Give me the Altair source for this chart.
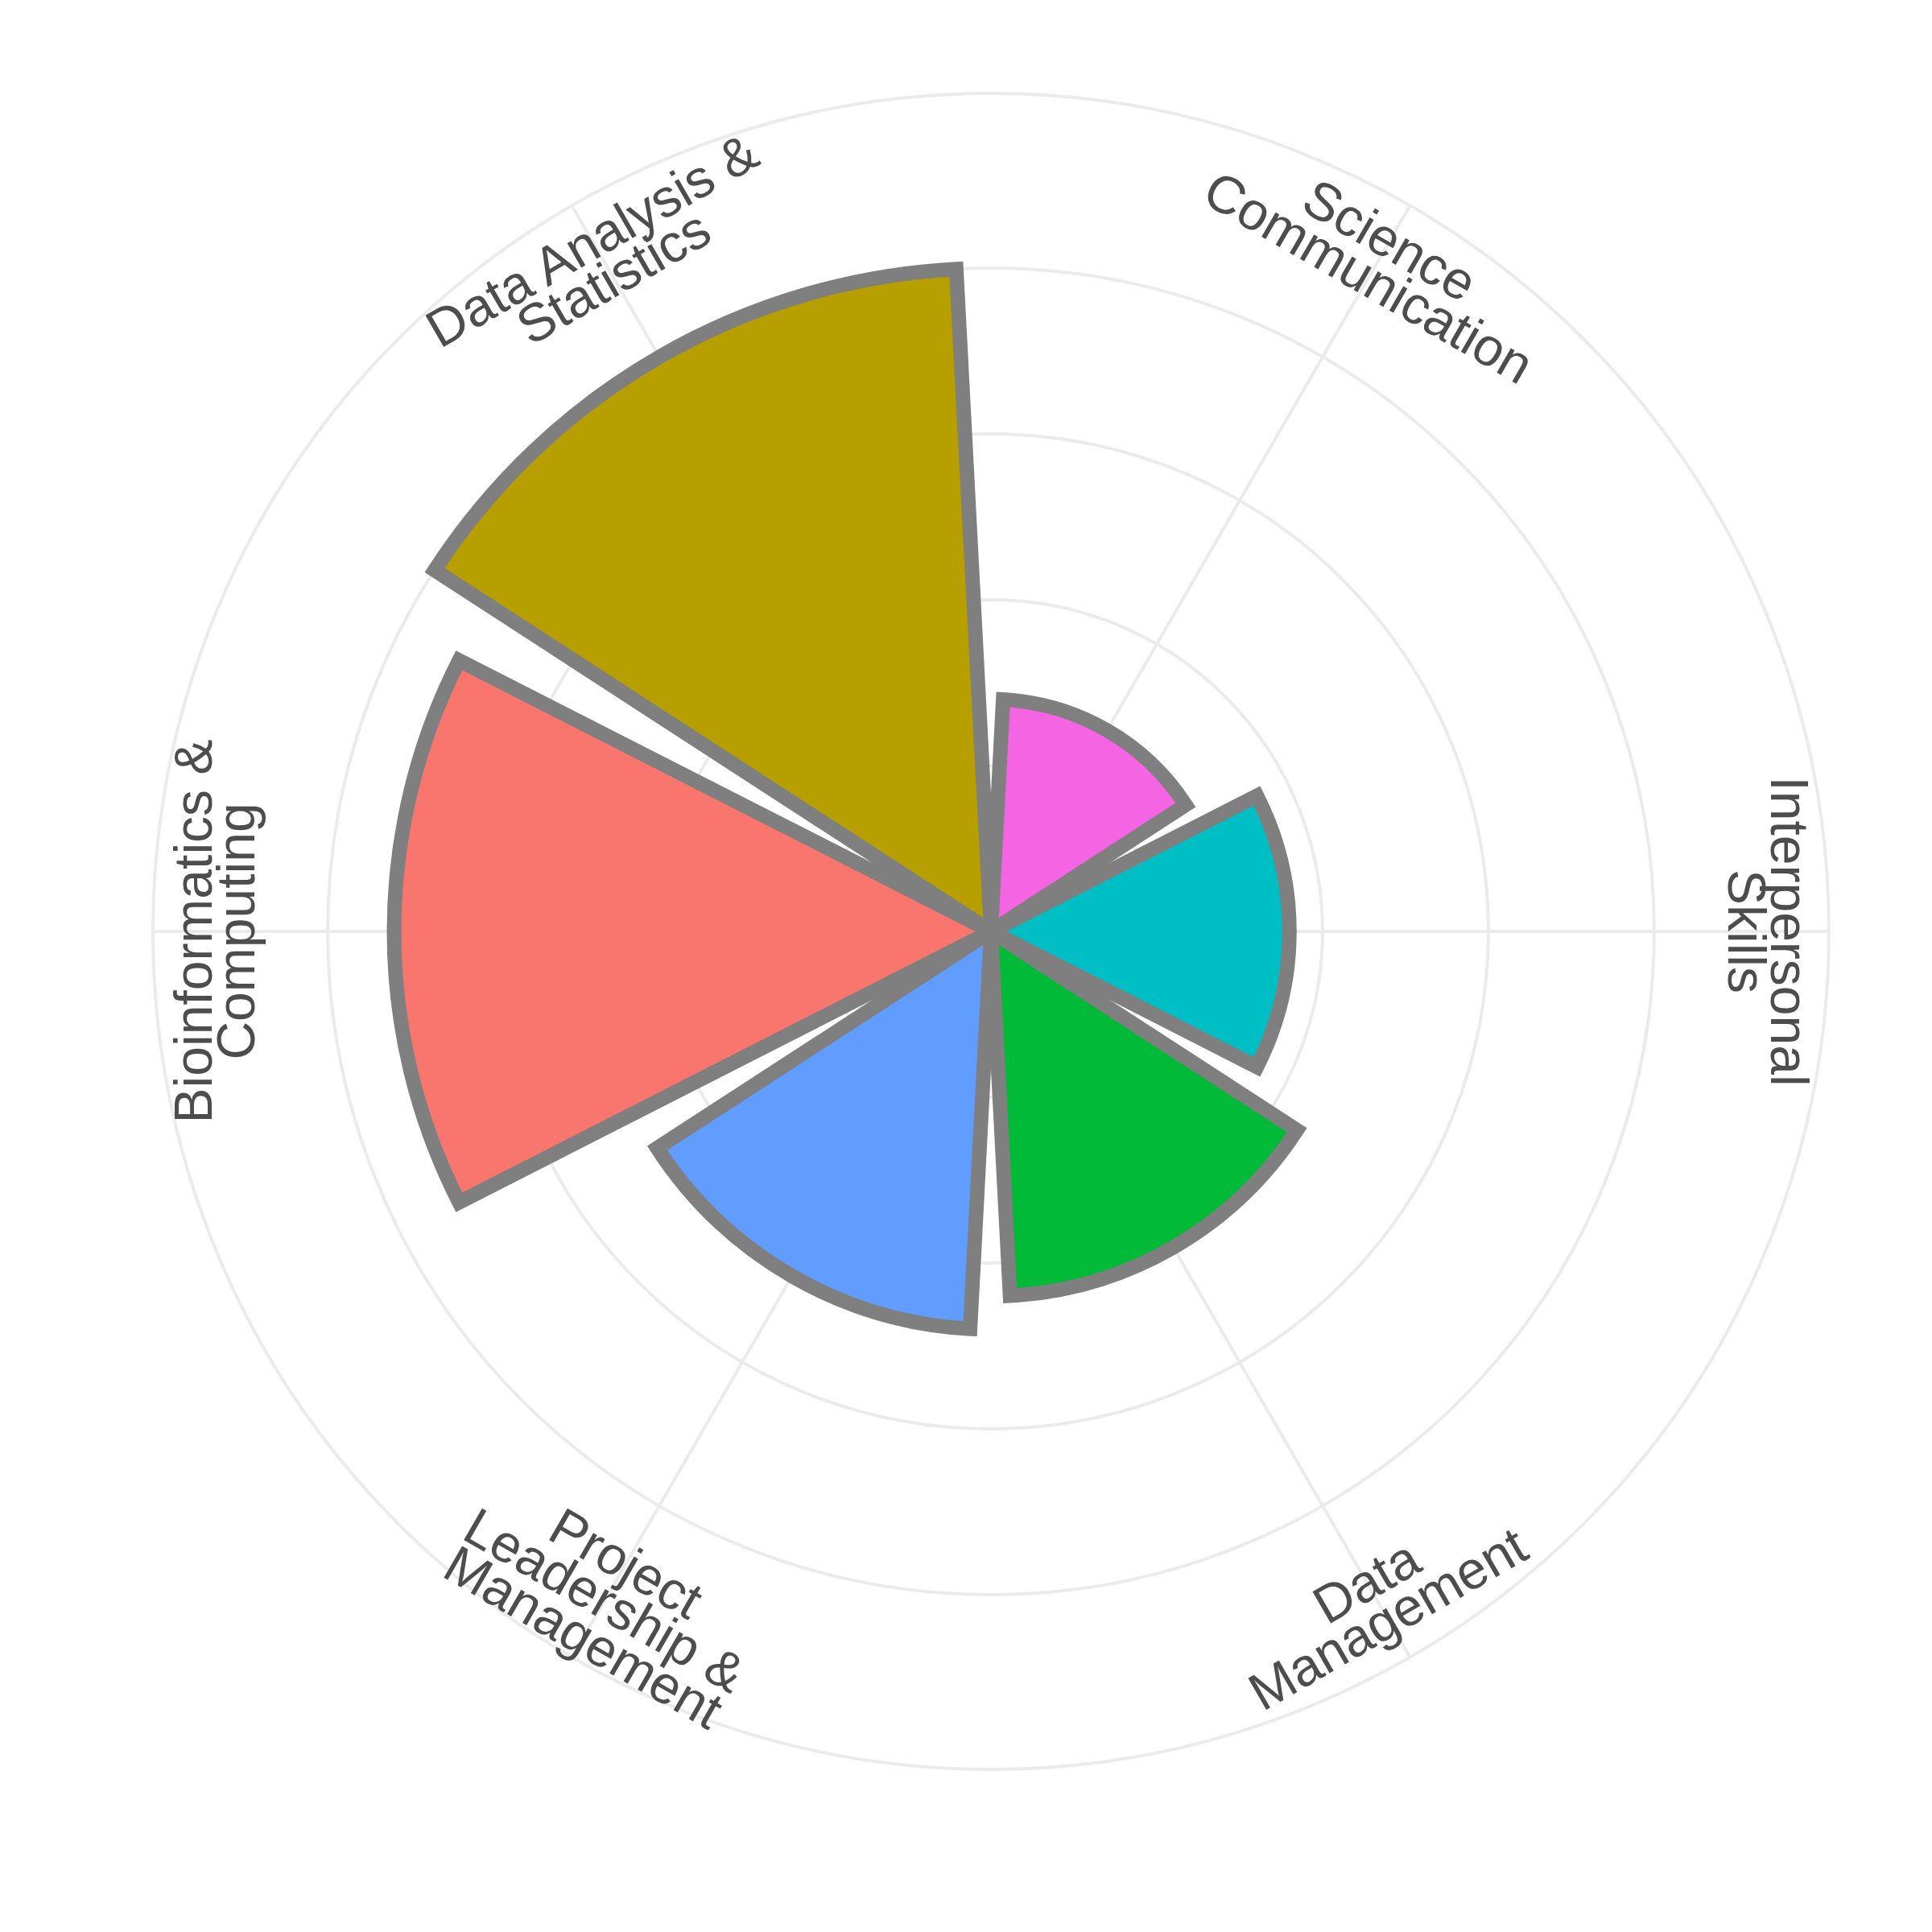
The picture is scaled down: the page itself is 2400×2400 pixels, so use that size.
import math
import altair as alt
import pandas as pd

# ---- data -------------------------------------------------------------
categories = ["Science Communication", "Interpersonal Skills", "Data Management",
              "Project Leadership & Management", "Bioinformatics & Computing",
              "Data Analysis & Statistics"]
values = [7, 9, 11, 12, 18, 20]
labels = ["Science\nCommunication", "Interpersonal\nSkills", "Data\nManagement",
          "Project\nLeadership &\nManagement", "Bioinformatics &\nComputing",
          "Data Analysis &\nStatistics"]
grid_breaks = [5, 10, 15, 20]
palette_domain = sorted(categories)
palette_range = ["#F8766D", "#B79F00", "#00BA38", "#00BFC4", "#619CFF", "#F564E3"]

# ---- layout constants ---------------------------------------------------
R_MAX = 25.27
CX, CY = 1231, 1157
OUTER_PX = 1041
LABEL_PX = 962
FONT_SIZE = 66
LINE_H = 53

n = len(categories)
bars_df = pd.DataFrame({"category": categories, "value": values,
                        "label": labels, "pos": list(range(1, n + 1)),
                        "nlines": [lab.count("\n") + 1 for lab in labels]})
grid_df = pd.DataFrame({"r": grid_breaks + [R_MAX]})
spoke_df = pd.DataFrame({"pos": list(range(1, n + 1))})

theta_scale = alt.Scale(domain=[0.5, n + 0.5], range=[0, 2 * math.pi])
radius_scale = alt.Scale(type="linear", domain=[0, R_MAX], range=[0, OUTER_PX])

GRID = "#EBEBEB"

circles = alt.Chart(grid_df).transform_calculate(
    t0="0.5", t1=str(n + 0.5)
).mark_arc(fillOpacity=0, stroke=GRID, strokeWidth=4).encode(
    theta=alt.Theta("t0:Q", scale=theta_scale, stack=None),
    theta2="t1:Q",
    radius=alt.Radius("r:Q", scale=radius_scale),
    x=alt.value(CX), y=alt.value(CY),
)

spokes = alt.Chart(spoke_df).transform_calculate(
    r=str(R_MAX)
).mark_arc(fillOpacity=0, stroke=GRID, strokeWidth=4).encode(
    theta=alt.Theta("pos:Q", scale=theta_scale, stack=None),
    theta2="pos:Q",
    radius=alt.Radius("r:Q", scale=radius_scale),
    x=alt.value(CX), y=alt.value(CY),
)

bars = alt.Chart(bars_df).transform_calculate(
    t0="datum.pos - 0.45", t1="datum.pos + 0.45"
).mark_arc(stroke="#7F7F7F", strokeWidth=18, strokeJoin="miter").encode(
    theta=alt.Theta("t0:Q", scale=theta_scale, stack=None),
    theta2="t1:Q",
    radius=alt.Radius("value:Q", scale=radius_scale),
    color=alt.Color("category:N",
                    scale=alt.Scale(domain=palette_domain, range=palette_range),
                    legend=None),
    x=alt.value(CX), y=alt.value(CY),
)


def label_layer(nl):
    return alt.Chart(bars_df).transform_filter(
        f"datum.nlines == {nl}"
    ).transform_calculate(
        deg=f"(datum.pos - 0.5) * 360 / {n}",
    ).transform_calculate(
        ang="(datum.deg <= 90 ? datum.deg : (datum.deg < 270 ? datum.deg - 180 : datum.deg - 360)) + 360",
    ).transform_calculate(
        ang2="datum.ang % 360"
    ).mark_text(
        font="Liberation Sans", fontSize=FONT_SIZE, color="#4D4D4D", lineBreak="\n",
        lineHeight=LINE_H, align="center", baseline="middle", radius=LABEL_PX,
        dy=-(nl - 1) * LINE_H / 2,
    ).encode(
        theta=alt.Theta("pos:Q", scale=theta_scale, stack=None),
        text="label:N",
        angle=alt.Angle("ang2:Q", scale=None),
        x=alt.value(CX), y=alt.value(CY),
    )


text2 = label_layer(2)
text3 = label_layer(3)

chart = alt.layer(circles, spokes, bars, text2, text3).properties(
    width=2400, height=2400, padding=0, autosize="none", background="white"
).configure_view(strokeWidth=0)

chart.save("out.html", embed_options={"renderer": "svg", "actions": False})
